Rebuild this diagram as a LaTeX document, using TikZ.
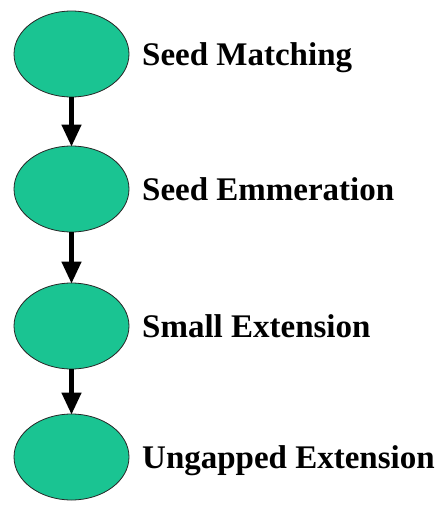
\documentclass[tikz,border=0pt]{standalone}
\usepackage{fontspec}
\setmainfont{Liberation Serif}
\usetikzlibrary{arrows.meta,shapes.geometric}
\definecolor{stepgreen}{RGB}{26,196,146}
\begin{document}
\begin{tikzpicture}[x=1pt,y=-1pt,
  stage/.style={ellipse,draw=black!85,line width=0.8pt,fill=stepgreen,minimum width=115pt,minimum height=86pt,inner sep=0pt},
  lbl/.style={anchor=base west,inner sep=0pt,font=\fontsize{33}{36}\selectfont\bfseries},
  flow/.style={line width=4.5pt,-{Triangle[width=19pt,length=22pt]},shorten >=-1pt}]
\useasboundingbox (0,0) rectangle (444,506);
\node[stage] (e1) at (71.5,54) {};
\node[stage] (e2) at (71.5,189) {};
\node[stage] (e3) at (71.5,326) {};
\node[stage] (e4) at (71.5,457) {};
\node[lbl] (t1) at (142,65) {Seed Matching};
\node[lbl] (t2) at (142,200) {Seed Emmeration};
\node[lbl] (t3) at (142,337) {Small Extension};
\node[lbl] (t4) at (142,468) {Ungapped Extension};
\draw[flow] (e1.south) -- (e2.north);
\draw[flow] (e2.south) -- (e3.north);
\draw[flow] (e3.south) -- (e4.north);
\end{tikzpicture}
\end{document}
